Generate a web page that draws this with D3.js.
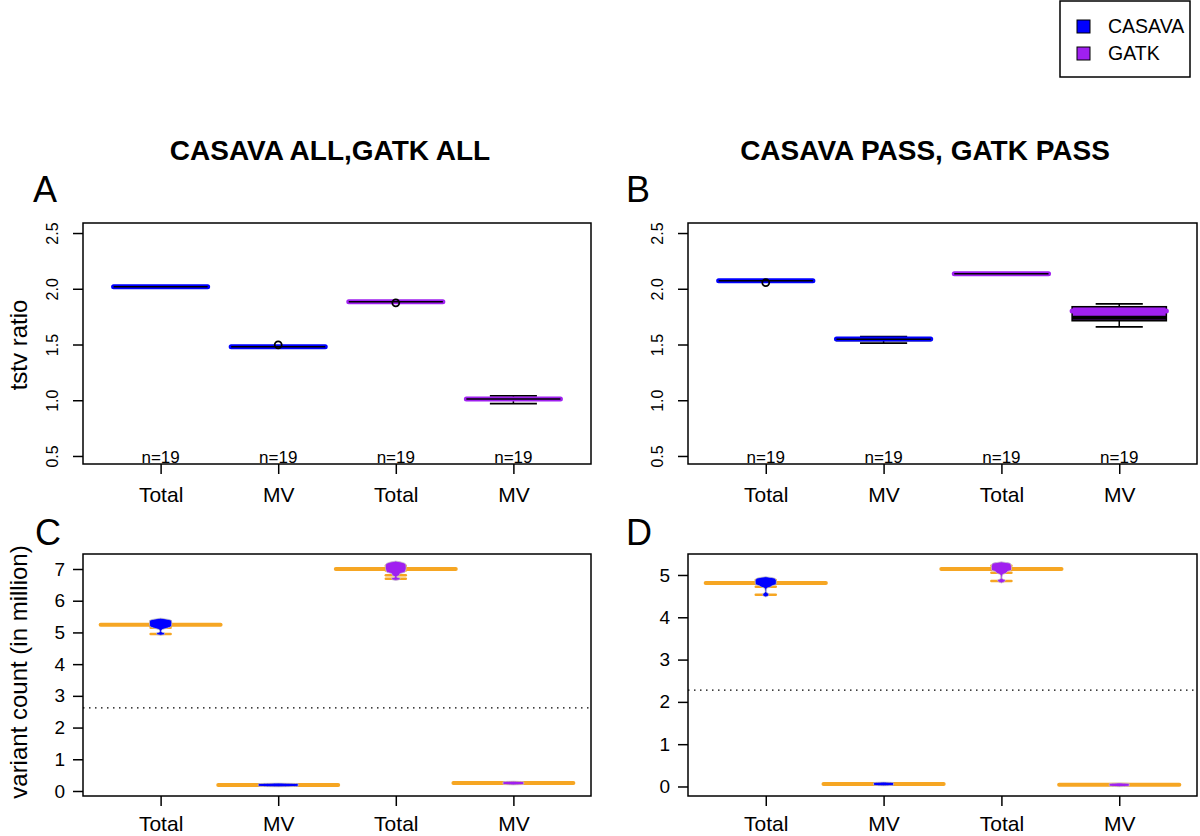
<!DOCTYPE html>
<html>
<head>
<meta charset="utf-8">
<script src="https://cdn.jsdelivr.net/npm/d3@7"></script>
<style>
  body { margin: 0; background: #fff; }
  svg { display: block; }
  text { font-family: "Liberation Sans", Arial, Helvetica, sans-serif; fill: #000; }
</style>
</head>
<body>
<div id="viz"></div>
<script>
// ---- data ----
const categories = ["Total", "MV", "Total", "MV"];
const callers = ["CASAVA", "CASAVA", "GATK", "GATK"];
const sampleCounts = [19, 19, 19, 19];
const callerColors = { CASAVA: "#0000FF", GATK: "#A020F0" };

// tstv boxplots, each [low whisker, q1, median, q3, high whisker]
const tstvAllBoxes = [
  [2.012, 2.012, 2.018, 2.024, 2.024],
  [1.474, 1.474, 1.480, 1.486, 1.486],
  [1.877, 1.877, 1.883, 1.889, 1.889],
  [0.969, 1.004, 1.010, 1.017, 1.040]
];
const tstvAllMeans = [2.018, 1.480, 1.883, 1.011];
const tstvAllOutliers = [[], [1.497], [1.874], []];

const tstvPassBoxes = [
  [2.066, 2.066, 2.072, 2.078, 2.078],
  [1.512, 1.535, 1.548, 1.560, 1.570],
  [2.129, 2.129, 2.135, 2.141, 2.141],
  [1.659, 1.713, 1.740, 1.839, 1.865]
];
const tstvPassMeans = [2.072, 1.550, 2.135, 1.800];
const tstvPassOutliers = [[2.056], [], [], []];

// variant count beans (million): mean line, density outline [value, rel. density], single observations
const countAllMeans = [5.24, 0.19, 7.00, 0.25];
const countAllOverall = 2.62;
const countAllProfiles = [
  [[5.45, 0], [5.41, 0.4], [5.37, 0.55], [5.30, 0.56], [5.22, 0.55], [5.16, 0.45], [5.12, 0.25], [5.08, 0.06], [5.02, 0.04], [4.98, 0.2], [4.94, 0.2], [4.91, 0]],
  [[0.25, 0], [0.23, 1.0], [0.15, 1.0], [0.13, 0]],
  [[7.25, 0], [7.20, 0.38], [7.15, 0.5], [7.05, 0.52], [6.97, 0.5], [6.90, 0.45], [6.85, 0.2], [6.80, 0.18], [6.75, 0.04], [6.71, 0.22], [6.67, 0.2], [6.64, 0]],
  [[0.31, 0], [0.29, 0.52], [0.21, 0.52], [0.19, 0]]
];
const countAllObs = [
  [5.35, 5.30, 5.25, 5.20, 5.15, 4.95],
  [0.19],
  [7.10, 7.05, 7.00, 6.95, 6.80, 6.69],
  [0.25]
];

const countPassMeans = [4.81, 0.06, 5.14, 0.04];
const countPassOverall = 2.28;
const countPassProfiles = [
  [[4.96, 0], [4.92, 0.45], [4.86, 0.53], [4.78, 0.52], [4.74, 0.3], [4.72, 0.25], [4.68, 0.05], [4.60, 0.03], [4.55, 0.15], [4.52, 0.15], [4.48, 0]],
  [[0.105, 0], [0.09, 0.5], [0.03, 0.5], [0.015, 0]],
  [[5.31, 0], [5.27, 0.45], [5.20, 0.5], [5.12, 0.5], [5.08, 0.3], [5.05, 0.25], [5.00, 0.05], [4.92, 0.03], [4.87, 0.2], [4.84, 0.15], [4.81, 0]],
  [[0.085, 0], [0.07, 0.5], [0.01, 0.5], [-0.005, 0]]
];
const countPassObs = [
  [4.88, 4.82, 4.72, 4.53],
  [0.06],
  [5.22, 5.15, 5.05, 4.86],
  [0.04]
];

const tstvTicks = [0.5, 1.0, 1.5, 2.0, 2.5];
const countAllTicks = [0, 1, 2, 3, 4, 5, 6, 7];
const countPassTicks = [0, 1, 2, 3, 4, 5];

// ---- layout ----
const width = 1200, height = 836;
const orange = "#F6A623";
const fontStack = '"Liberation Sans", Arial, Helvetica, sans-serif';

const svg = d3.select("#viz").append("svg")
  .attr("viewBox", [0, 0, width, height])
  .attr("width", width)
  .attr("height", height);

const makeX = (left, right) => d3.scaleLinear().domain([0.34, 4.66]).range([left, right]);

const panels = {
  A: { x: makeX(83, 591), y: d3.scaleLinear().domain([0.428, 2.59]).range([464, 223]) },
  B: { x: makeX(688, 1197), y: d3.scaleLinear().domain([0.428, 2.59]).range([464, 223]) },
  C: { x: makeX(83, 591), y: d3.scaleLinear().domain([-0.158, 7.473]).range([796, 554]) },
  D: { x: makeX(688, 1197), y: d3.scaleLinear().domain([-0.225, 5.496]).range([796, 554]) }
};

const frame = (g, p) => {
  const [x0, x1] = p.x.range(), [y0, y1] = p.y.range();
  g.append("rect")
    .attr("x", x0).attr("y", y1)
    .attr("width", x1 - x0).attr("height", y0 - y1)
    .attr("fill", "none").attr("stroke", "#000").attr("stroke-width", 1.5);
};

const xAxis = (g, p, pad) => {
  const ax = g.append("g")
    .attr("transform", `translate(0,${p.y.range()[0]})`)
    .call(d3.axisBottom(p.x).tickValues([1, 2, 3, 4]).tickSize(10).tickPadding(pad)
      .tickFormat((d, i) => categories[i]));
  ax.select(".domain").remove();
  ax.selectAll("line").attr("stroke-width", 1.5);
  ax.selectAll("text").attr("font-size", 21).attr("fill", "#000").attr("font-family", fontStack);
};

const yAxis = (g, p, ticks, rotated) => {
  const ax = g.append("g")
    .attr("transform", `translate(${p.x.range()[0]},0)`)
    .call(d3.axisLeft(p.y).tickValues(ticks).tickSize(10)
      .tickFormat(rotated ? d3.format(".1f") : d3.format("d")));
  ax.select(".domain").remove();
  ax.selectAll("line").attr("stroke-width", 1.5);
  const t = ax.selectAll("text").attr("fill", "#000").attr("font-family", fontStack);
  if (rotated) {
    t.attr("font-size", 16).attr("x", null).attr("dy", null)
      .attr("text-anchor", "middle")
      .attr("transform", "translate(-25,0) rotate(-90)");
  } else {
    t.attr("font-size", 19).attr("x", -18);
  }
};

const boxPanel = (key, boxes, means, outliers) => {
  const p = panels[key];
  const g = svg.append("g");
  const unit = p.x(1) - p.x(0);
  const half = unit * 0.4;

  const items = boxes.map((b, i) => ({
    pos: i + 1, b, mean: means[i], out: outliers[i], color: callerColors[callers[i]]
  }));

  const box = g.selectAll("g.box").data(items).join("g").attr("class", "box");

  // whiskers
  box.append("line")
    .attr("x1", d => p.x(d.pos)).attr("x2", d => p.x(d.pos))
    .attr("y1", d => p.y(d.b[0])).attr("y2", d => p.y(d.b[4]))
    .attr("stroke", "#000").attr("stroke-width", 1.5);
  [0, 4].forEach(k => {
    box.append("line")
      .attr("x1", d => p.x(d.pos) - half / 2).attr("x2", d => p.x(d.pos) + half / 2)
      .attr("y1", d => p.y(d.b[k])).attr("y2", d => p.y(d.b[k]))
      .attr("stroke", "#000").attr("stroke-width", 1.8);
  });
  // box
  box.append("rect")
    .attr("x", d => p.x(d.pos) - half).attr("width", half * 2)
    .attr("y", d => p.y(d.b[3])).attr("height", d => p.y(d.b[1]) - p.y(d.b[3]))
    .attr("fill", d => d.color).attr("stroke", "#000").attr("stroke-width", 1.5);
  // mean bar
  box.append("line")
    .attr("x1", d => p.x(d.pos) - half).attr("x2", d => p.x(d.pos) + half)
    .attr("y1", d => p.y(d.mean)).attr("y2", d => p.y(d.mean))
    .attr("stroke", d => d.color).attr("stroke-width", 5).attr("stroke-linecap", "round");
  // median
  box.append("line")
    .attr("x1", d => p.x(d.pos) - half).attr("x2", d => p.x(d.pos) + half)
    .attr("y1", d => p.y(d.b[2])).attr("y2", d => p.y(d.b[2]))
    .attr("stroke", "#000").attr("stroke-width", d => d.pos === 4 && key === "B" ? 4 : 1.5);
  // outliers
  box.selectAll("circle").data(d => d.out.map(v => ({ pos: d.pos, v }))).join("circle")
    .attr("cx", d => p.x(d.pos)).attr("cy", d => p.y(d.v)).attr("r", 3.5)
    .attr("fill", "none").attr("stroke", "#000").attr("stroke-width", 1.8);

  // n labels
  g.selectAll("text.n").data(sampleCounts).join("text").attr("class", "n")
    .attr("x", (d, i) => p.x(i + 1)).attr("y", p.y.range()[0] - 1)
    .attr("text-anchor", "middle").attr("font-size", 17)
    .text(d => `n=${d}`);

  frame(g, p);
  xAxis(g, p, 13);
  yAxis(g, p, tstvTicks, true);
};

const beanPanel = (key, means, overall, profiles, obs, ticks) => {
  const p = panels[key];
  const g = svg.append("g");
  const unit = p.x(1) - p.x(0);
  const dens = d3.scaleLinear().domain([0, 1]).range([0, unit * 0.17]);
  const obsHalf = unit * 0.085;
  const meanHalf = unit * 0.51;

  const items = means.map((m, i) => ({
    pos: i + 1, mean: m, prof: profiles[i], obs: obs[i], color: callerColors[callers[i]]
  }));

  const bean = g.selectAll("g.bean").data(items).join("g").attr("class", "bean");

  bean.append("line")
    .attr("x1", d => p.x(d.pos) - meanHalf).attr("x2", d => p.x(d.pos) + meanHalf)
    .attr("y1", d => p.y(d.mean)).attr("y2", d => p.y(d.mean))
    .attr("stroke", orange).attr("stroke-width", 4).attr("stroke-linecap", "round");

  bean.selectAll("line.obs").data(d => d.obs.map(v => ({ pos: d.pos, v }))).join("line")
    .attr("class", "obs")
    .attr("x1", d => p.x(d.pos) - obsHalf).attr("x2", d => p.x(d.pos) + obsHalf)
    .attr("y1", d => p.y(d.v)).attr("y2", d => p.y(d.v))
    .attr("stroke", orange).attr("stroke-width", 2.5).attr("stroke-linecap", "round");

  const area = d3.area()
    .curve(d3.curveMonotoneY)
    .y(d => p.y(d[0]));

  bean.append("path")
    .attr("d", d => area
      .x0(e => p.x(d.pos) - dens(e[1]))
      .x1(e => p.x(d.pos) + dens(e[1]))(d.prof))
    .attr("fill", d => d.color)
    .attr("stroke", "#C8C8C8").attr("stroke-width", 0.9)
    .attr("stroke-opacity", 0.85);

  const [x0, x1] = p.x.range();
  g.append("line")
    .attr("x1", x0).attr("x2", x1)
    .attr("y1", p.y(overall)).attr("y2", p.y(overall))
    .attr("stroke", "#000").attr("stroke-width", 1.3).attr("stroke-dasharray", "1.5,4.5");

  frame(g, p);
  xAxis(g, p, 10);
  yAxis(g, p, ticks, false);
};

boxPanel("A", tstvAllBoxes, tstvAllMeans, tstvAllOutliers);
boxPanel("B", tstvPassBoxes, tstvPassMeans, tstvPassOutliers);
beanPanel("C", countAllMeans, countAllOverall, countAllProfiles, countAllObs, countAllTicks);
beanPanel("D", countPassMeans, countPassOverall, countPassProfiles, countPassObs, countPassTicks);

// titles and letters
svg.append("text").attr("x", 330).attr("y", 160).attr("text-anchor", "middle")
  .attr("font-size", 28).attr("font-weight", "bold").text("CASAVA ALL,GATK ALL");
svg.append("text").attr("x", 925).attr("y", 160).attr("text-anchor", "middle")
  .attr("font-size", 28).attr("font-weight", "bold").text("CASAVA PASS, GATK PASS");

[["A", 33, 202], ["B", 626, 202], ["C", 35, 545], ["D", 626, 545]].forEach(([l, x, y]) => {
  svg.append("text").attr("x", x).attr("y", y).attr("font-size", 36).text(l);
});

svg.append("text").attr("transform", "translate(27,345) rotate(-90)")
  .attr("text-anchor", "middle").attr("font-size", 24).text("tstv ratio");
svg.append("text").attr("transform", "translate(27,672) rotate(-90)")
  .attr("text-anchor", "middle").attr("font-size", 24).text("variant count (in million)");

// legend
const legend = svg.append("g");
legend.append("rect").attr("x", 1060).attr("y", 1).attr("width", 130).attr("height", 76)
  .attr("fill", "#fff").attr("stroke", "#000").attr("stroke-width", 1.5);
const legendKeys = ["CASAVA", "GATK"];
legendKeys.forEach((k, i) => {
  legend.append("rect").attr("x", 1077).attr("y", 20 + i * 27).attr("width", 13).attr("height", 13)
    .attr("fill", callerColors[k]).attr("stroke", "#000").attr("stroke-width", 1);
  legend.append("text").attr("x", 1108).attr("y", 33 + i * 27).attr("font-size", 19.5).text(k);
});
</script>
</body>
</html>
